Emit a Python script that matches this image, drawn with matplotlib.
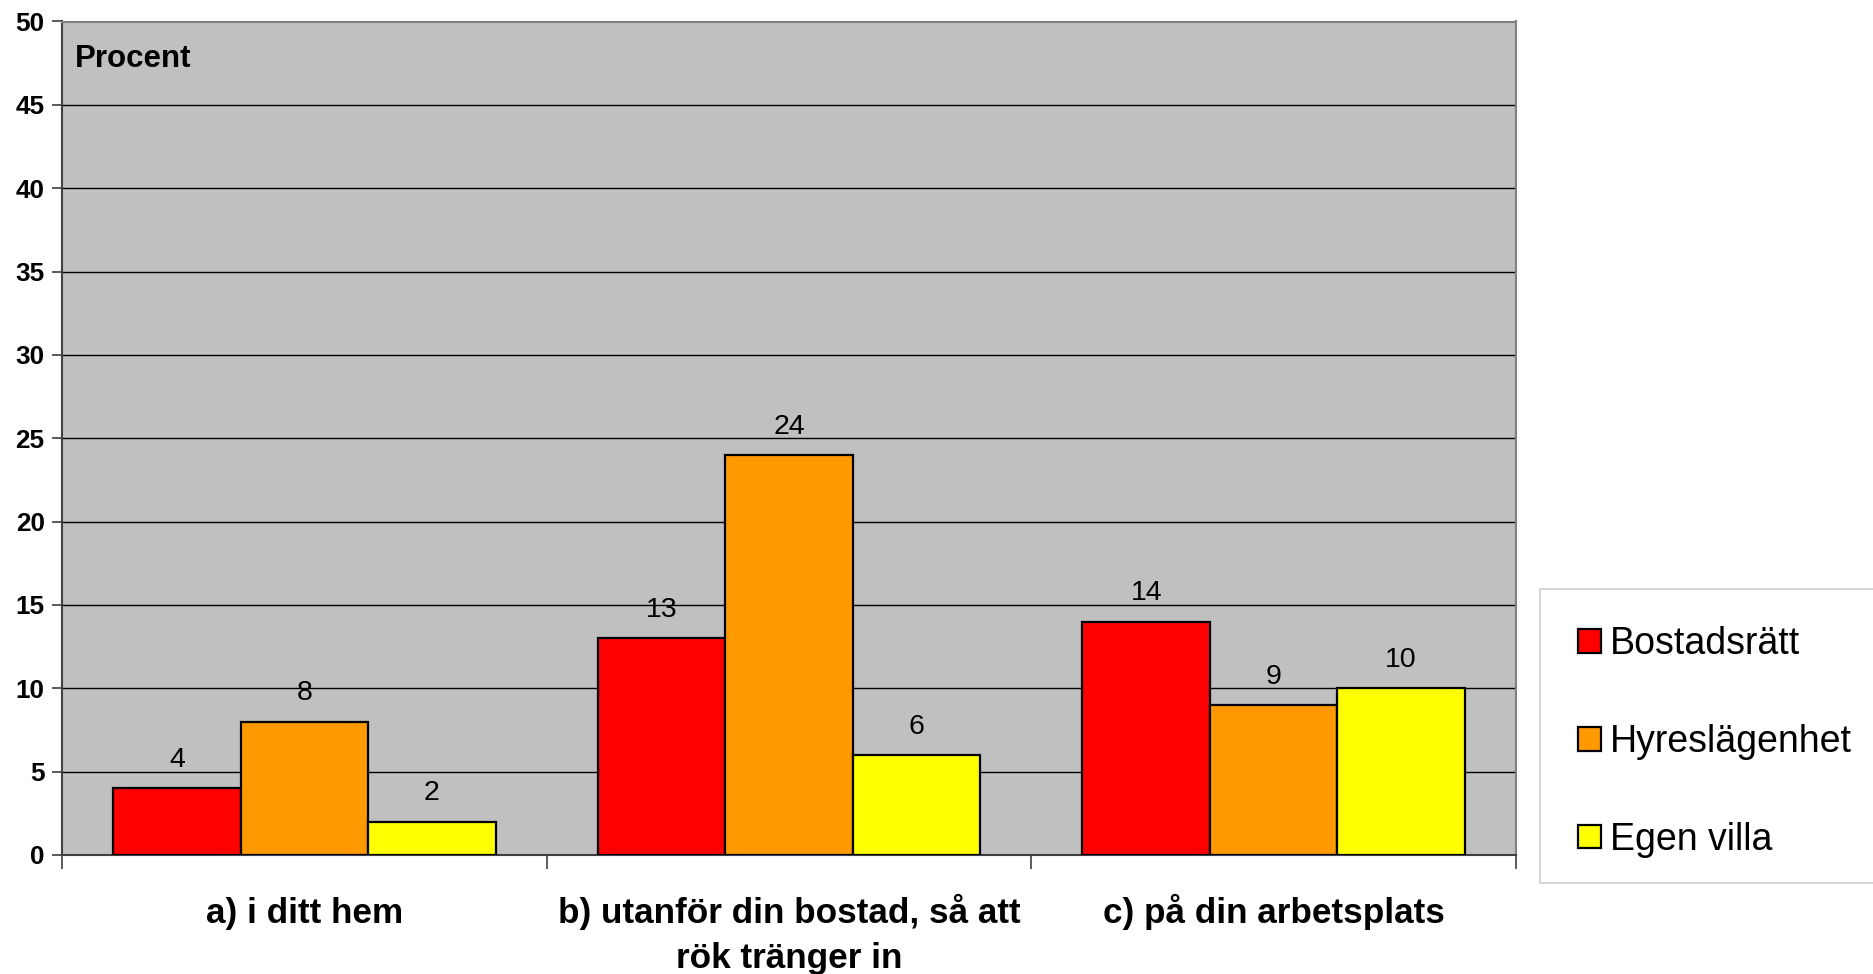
import matplotlib.pyplot as plt
from matplotlib.patches import Rectangle
import numpy as np

plt.rcParams['font.family'] = ['Liberation Sans', 'DejaVu Sans']

categories = ["a) i ditt hem", "b) utanför din bostad, så att\nrök tränger in", "c) på din arbetsplats"]
series_names = ["Bostadsrätt", "Hyreslägenhet", "Egen villa"]
bostadsratt = [4, 13, 14]
hyreslagenhet = [8, 24, 9]
egen_villa = [2, 6, 10]
colors = ["#FF0000", "#FF9900", "#FFFF00"]

fig = plt.figure(figsize=(18.73, 9.74), dpi=100)
ax = fig.add_axes([62 / 1873, 1 - 855 / 974, (1516 - 62) / 1873, (855 - 21.5) / 974])
ax.set_facecolor("#C0C0C0")

x = np.arange(len(categories))
w = 0.263
for i, (vals, name, col) in enumerate(zip([bostadsratt, hyreslagenhet, egen_villa], series_names, colors)):
    bars = ax.bar(x + (i - 1) * w, vals, w, color=col, edgecolor="black", linewidth=1.6,
                  label=name, zorder=3)
    ax.bar_label(bars, padding=11, fontsize=20.5, zorder=4)

ax.set_xlim(-0.5, len(categories) - 0.5)
ax.set_ylim(0, 50)
ax.set_yticks(np.arange(0, 51, 5))
ax.yaxis.grid(True, color="black", linewidth=1.0, zorder=1)
ax.set_axisbelow(True)

for lab in ax.get_yticklabels():
    lab.set_fontweight("bold")
ax.tick_params(axis="y", labelsize=18.8, length=7, width=1.2, color="#404040", pad=5.5)

# category labels: first line as tick label on a common baseline, extra lines below
first_lines = [c.split("\n")[0] for c in categories]
ax.set_xticks(x)
ax.set_xticklabels(first_lines, fontsize=25.3, fontweight="bold")
for lab in ax.get_xticklabels():
    lab.set_verticalalignment("baseline")
ax.tick_params(axis="x", which="major", length=0, pad=49)
for xi, c in zip(x, categories):
    for k, line in enumerate(c.split("\n")[1:], start=1):
        ax.annotate(line, xy=(xi, 0), xycoords=("data", "axes fraction"),
                    xytext=(0, -49 - 32.5 * k), textcoords="offset points",
                    ha="center", va="baseline", fontsize=25.3, fontweight="bold",
                    annotation_clip=False)
# tick marks between categories
ax.set_xticks(np.arange(-0.5, len(categories), 1.0), minor=True)
ax.tick_params(axis="x", which="minor", length=10, width=1.2, color="#404040")

for s in ["top", "right"]:
    ax.spines[s].set_color("#808080")
    ax.spines[s].set_linewidth(1.5)
for s in ["left", "bottom"]:
    ax.spines[s].set_color("#404040")
    ax.spines[s].set_linewidth(1.5)

ax.text(0.009, 0.973, "Procent", transform=ax.transAxes, fontsize=22.5, fontweight="bold",
        va="top", ha="left")

# legend box drawn separately, runs off the right edge like the original
fig.patches.append(Rectangle((1540 / 1873, 1 - 883 / 974), 0.2, (883 - 589) / 974,
                             transform=fig.transFigure, facecolor="white",
                             edgecolor="#D0D0D0", linewidth=1.2, zorder=0))
leg = fig.legend(loc="upper left", bbox_to_anchor=(1578 / 1873, 1 - 626 / 974),
                 fontsize=27, frameon=False, borderpad=0,
                 labelspacing=1.65, handlelength=0.6, handleheight=0.6,
                 handletextpad=0.25, borderaxespad=0)

fig.savefig("out.png", dpi=100)
